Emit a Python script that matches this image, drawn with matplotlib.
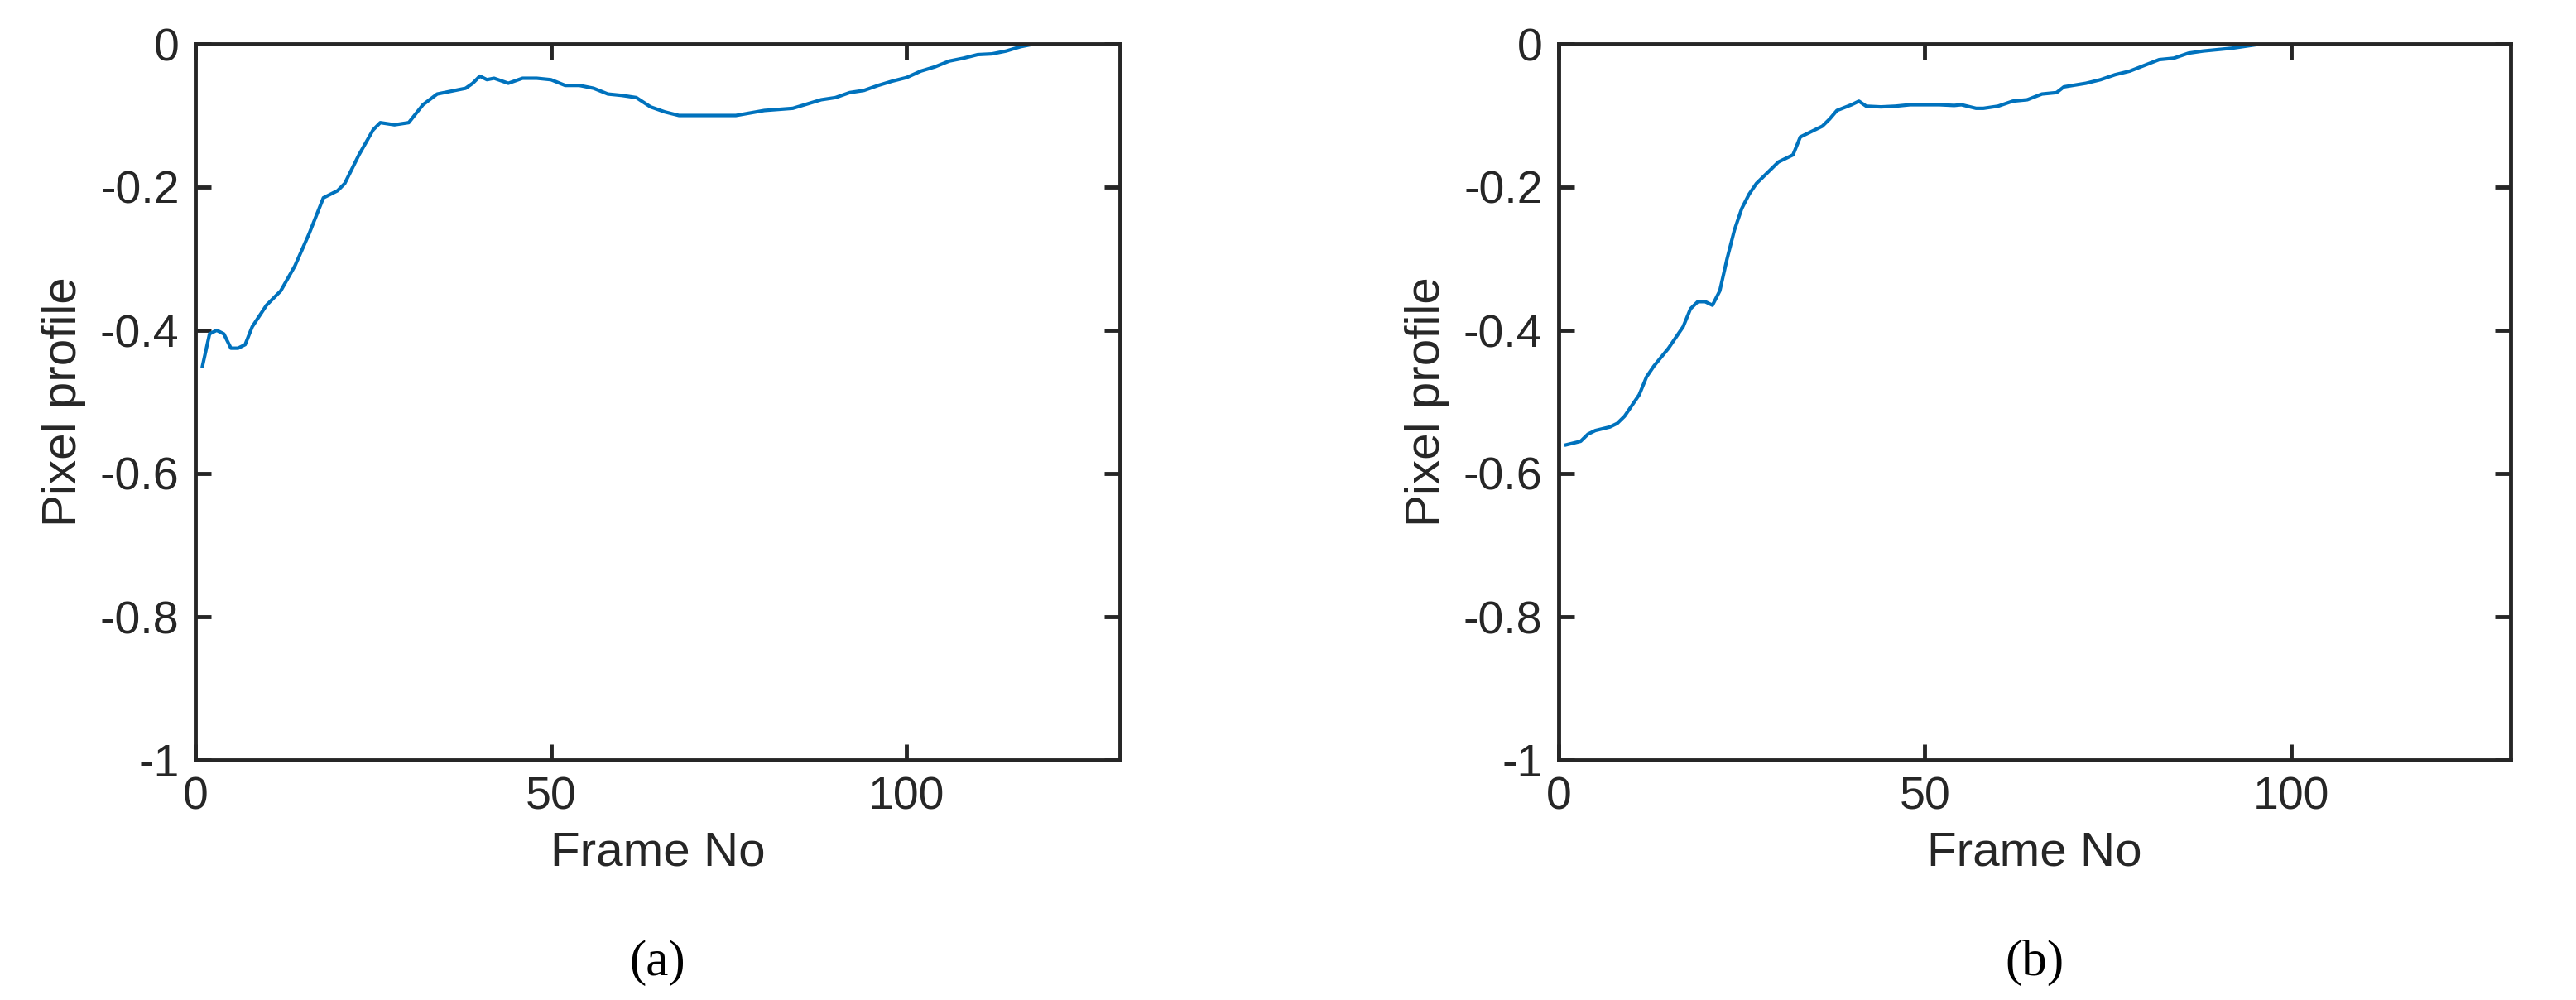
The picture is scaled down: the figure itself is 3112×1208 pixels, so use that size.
import matplotlib
matplotlib.use("Agg")
import matplotlib.pyplot as plt

# panel (a)
frames_a = [1, 2, 3, 4, 5, 6, 7, 8, 10, 12, 14, 16, 18, 20, 21, 23, 25, 26, 28, 30,
            32, 34, 36, 38, 39, 40, 41, 42, 44, 46, 48, 50, 52, 54, 56, 58, 60, 62, 64,
            66, 68, 72, 76, 80, 84, 86, 88, 90, 92, 94, 96, 98, 100, 102, 104, 106, 108,
            110, 112, 114, 116, 118, 121]
profile_a = [-0.45, -0.405, -0.40, -0.405, -0.425, -0.425, -0.42, -0.395, -0.365, -0.345,
             -0.31, -0.265, -0.215, -0.205, -0.195, -0.155, -0.12, -0.11, -0.113, -0.11,
             -0.085, -0.07, -0.066, -0.062, -0.055, -0.045, -0.05, -0.048, -0.055, -0.048,
             -0.048, -0.05, -0.058, -0.058, -0.062, -0.07, -0.072, -0.075, -0.088, -0.095,
             -0.1, -0.1, -0.1, -0.093, -0.09, -0.084, -0.078, -0.075, -0.068, -0.065,
             -0.058, -0.052, -0.047, -0.038, -0.032, -0.024, -0.02, -0.015, -0.014, -0.01,
             -0.004, 0.0, 0.0]

# panel (b)
frames_b = [1, 3, 4, 5, 7, 8, 9, 11, 12, 13, 15, 17, 18, 19, 20, 21, 22, 23, 24, 25, 26,
            27, 29, 30, 32, 33, 35, 36, 37, 38, 40, 41, 42, 44, 46, 48, 50, 52, 54, 55,
            57, 58, 60, 62, 64, 66, 68, 69, 72, 74, 76, 78, 80, 82, 84, 86, 88, 90, 92,
            94, 96, 122]
profile_b = [-0.56, -0.555, -0.545, -0.54, -0.535, -0.53, -0.52, -0.49, -0.465, -0.45,
             -0.425, -0.395, -0.37, -0.36, -0.36, -0.365, -0.345, -0.3, -0.26, -0.23,
             -0.21, -0.195, -0.175, -0.165, -0.155, -0.13, -0.12, -0.115, -0.105, -0.093,
             -0.085, -0.08, -0.087, -0.088, -0.087, -0.085, -0.085, -0.085, -0.086,
             -0.085, -0.09, -0.09, -0.087, -0.08, -0.078, -0.07, -0.068, -0.06, -0.055,
             -0.05, -0.043, -0.038, -0.03, -0.022, -0.02, -0.013, -0.01, -0.008, -0.006,
             -0.003, 0.0, 0.0]

panels = [(frames_a, profile_a, "(a)"), (frames_b, profile_b, "(b)")]
y_ticks = [0, -0.2, -0.4, -0.6, -0.8, -1]
y_labels = ["0", "-0.2", "-0.4", "-0.6", "-0.8", "-1"]

plt.rcParams["font.family"] = ["Arial", "Liberation Sans", "DejaVu Sans"]
fig = plt.figure(figsize=(31.12, 12.08), dpi=100)

W, H = 3112, 1208
lefts = [236 / W, 1883 / W]
widths = [1117 / W, 1150 / W]
bottom = 1 - 918 / H
h = 865 / H

for left, w, (fr, prof, tag) in zip(lefts, widths, panels):
    ax = fig.add_axes([left, bottom, w, h])
    ax.plot(fr, prof, color="#0072BD", lw=3)
    ax.set_xlim(0, 130)
    ax.set_ylim(-1, 0)
    ax.set_xticks([0, 50, 100])
    ax.set_yticks(y_ticks)
    ax.set_yticklabels(y_labels)
    for s in ax.spines.values():
        s.set_linewidth(3.5)
        s.set_color("#262626")
    ax.tick_params(direction="in", length=14, width=3.5, colors="#262626",
                   labelsize=40, top=True, right=True, pad=14)
    ax.set_xlabel("Frame No", fontsize=42, color="#262626", labelpad=10)
    ax.set_ylabel("Pixel profile", fontsize=42, color="#262626", labelpad=12)
    ax.text(0.5, -0.283, tag, transform=ax.transAxes, ha="center", va="center",
            fontsize=44, family=["Liberation Serif", "DejaVu Serif"])

fig.savefig("out.png", dpi=100)
